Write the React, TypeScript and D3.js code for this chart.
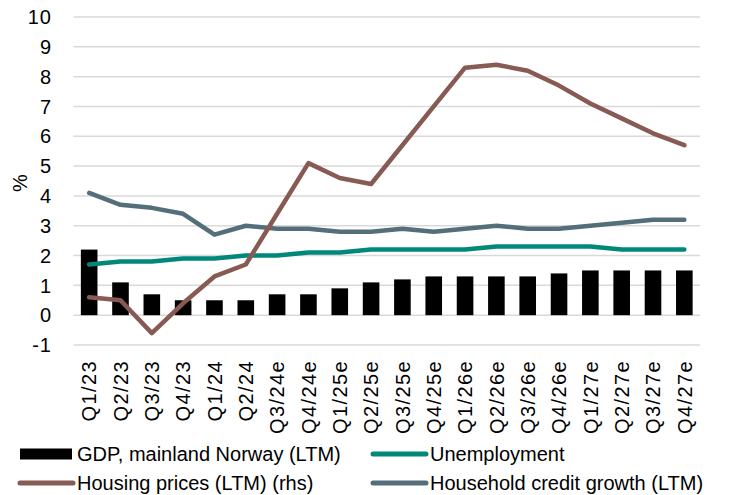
import React from "react";
import * as d3 from "d3";

const quarters = [
  "Q1/23", "Q2/23", "Q3/23", "Q4/23", "Q1/24", "Q2/24", "Q3/24e", "Q4/24e",
  "Q1/25e", "Q2/25e", "Q3/25e", "Q4/25e", "Q1/26e", "Q2/26e", "Q3/26e", "Q4/26e",
  "Q1/27e", "Q2/27e", "Q3/27e", "Q4/27e",
];
const gdp = [2.2, 1.1, 0.7, 0.5, 0.5, 0.5, 0.7, 0.7, 0.9, 1.1, 1.2, 1.3, 1.3, 1.3, 1.3, 1.4, 1.5, 1.5, 1.5, 1.5];
const unemployment = [1.7, 1.8, 1.8, 1.9, 1.9, 2.0, 2.0, 2.1, 2.1, 2.2, 2.2, 2.2, 2.2, 2.3, 2.3, 2.3, 2.3, 2.2, 2.2, 2.2];
const housing = [0.6, 0.5, -0.6, 0.4, 1.3, 1.7, 3.4, 5.1, 4.6, 4.4, 5.7, 7.0, 8.3, 8.4, 8.2, 7.7, 7.1, 6.6, 6.1, 5.7];
const credit = [4.1, 3.7, 3.6, 3.4, 2.7, 3.0, 2.9, 2.9, 2.8, 2.8, 2.9, 2.8, 2.9, 3.0, 2.9, 2.9, 3.0, 3.1, 3.2, 3.2];
const yTicks = [-1, 0, 1, 2, 3, 4, 5, 6, 7, 8, 9, 10];

const COLORS = {
  gdp: "#000000",
  unemployment: "#00897b",
  housing: "#875a53",
  credit: "#546e7a",
};

const W = 729;
const H = 495;
const plot = { left: 73.5, right: 700, top: 17, bottom: 345 };
const font = "'Liberation Sans', Arial, sans-serif";

export default function App() {
  const x = d3.scaleBand<string>().domain(quarters).range([plot.left, plot.right]);
  const xBar = d3.scaleBand<string>().domain(quarters).range([plot.left, plot.right]).paddingInner(0.47).paddingOuter(0.235);
  const y = d3.scaleLinear().domain([-1, 10]).range([plot.bottom, plot.top]);
  const cx = (i: number) => (x(quarters[i]) as number) + x.bandwidth() / 2;

  const line = d3
    .line<number>()
    .x((_, i) => cx(i))
    .y((d) => y(d));

  const series = [
    { key: "unemployment", values: unemployment },
    { key: "credit", values: credit },
    { key: "housing", values: housing },
  ];

  const legendRows = [
    { y: 454, items: [{ kind: "bar", x: 20, label: "GDP, mainland Norway (LTM)", color: COLORS.gdp }, { kind: "line", x: 373, label: "Unemployment", color: COLORS.unemployment }] },
    { y: 483, items: [{ kind: "line", x: 20, label: "Housing prices (LTM) (rhs)", color: COLORS.housing }, { kind: "line", x: 373, label: "Household credit growth (LTM)", color: COLORS.credit }] },
  ];

  return (
    <svg width={W} height={H} style={{ position: "absolute", left: 0, top: 0, background: "#fff" }} fontFamily={font}>
      {/* gridlines */}
      {yTicks.map((t) => (
        <line key={t} x1={plot.left} x2={plot.right} y1={y(t)} y2={y(t)} stroke="#d9d9d9" strokeWidth={1.5} />
      ))}
      {/* y tick labels */}
      {yTicks.map((t) => (
        <text key={"yl" + t} x={52} y={y(t)} dy="0.36em" textAnchor="end" fontSize={20} letterSpacing={1} fill="#000">
          {t}
        </text>
      ))}
      <text transform={`translate(27,183) rotate(-90)`} textAnchor="middle" fontSize={20} fill="#000">%</text>

      {/* bars */}
      {gdp.map((v, i) => (
        <rect
          key={"b" + i}
          x={xBar(quarters[i])}
          width={xBar.bandwidth()}
          y={y(Math.max(0, v))}
          height={Math.abs(y(v) - y(0))}
          fill={COLORS.gdp}
        />
      ))}

      {/* lines */}
      {series.map((s) => (
        <path
          key={s.key}
          d={line(s.values) as string}
          fill="none"
          stroke={COLORS[s.key as keyof typeof COLORS]}
          strokeWidth={4.5}
          strokeLinejoin="round"
          strokeLinecap="round"
        />
      ))}

      {/* x labels */}
      {quarters.map((q, i) => (
        <text
          key={"xl" + q}
          transform={`translate(${cx(i)},360) rotate(-90)`}
          textAnchor="end"
          dy="0.36em"
          fontSize={20}
          letterSpacing={1.4}
          fill="#000"
        >
          {q}
        </text>
      ))}

      {/* legend */}
      {legendRows.map((row, r) =>
        row.items.map((it) => (
          <g key={r + it.label}>
            {it.kind === "bar" ? (
              <rect x={it.x} y={row.y - 5.5} width={52} height={11} fill={it.color} />
            ) : (
              <line x1={it.x} x2={it.x + 53} y1={row.y} y2={row.y} stroke={it.color} strokeWidth={5} strokeLinecap="round" />
            )}
            <text x={it.x + 57} y={row.y} dy="0.36em" fontSize={20} fill="#000">
              {it.label}
            </text>
          </g>
        ))
      )}
    </svg>
  );
}
